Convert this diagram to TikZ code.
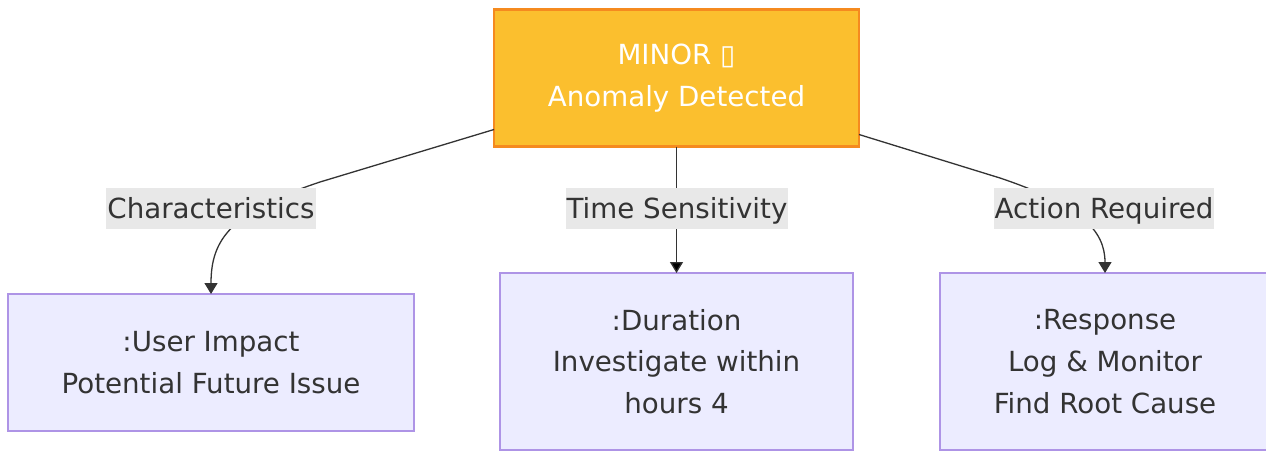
\documentclass[tikz,border=0pt]{standalone}
\usepackage{fontspec}
\setmainfont{DejaVu Sans}
\usetikzlibrary{positioning,arrows.meta}
\definecolor{minorfill}{HTML}{FBBF2E}
\definecolor{minordraw}{HTML}{F58A1F}
\definecolor{infofill}{HTML}{ECECFF}
\definecolor{infodraw}{HTML}{AE94E6}
\definecolor{lblfill}{HTML}{E8E8E8}
\definecolor{ink}{HTML}{333333}
\begin{document}
\begin{tikzpicture}
[x=1pt,y=-1pt,
 every node/.style={inner sep=0pt,outer sep=0pt,align=center,font=\fontsize{27.7pt}{41.6pt}\selectfont},
 alarm/.style={rectangle,draw=minordraw,line width=2.6pt,fill=minorfill,text=white,minimum width=365pt,minimum height=137pt},
 info/.style={rectangle,draw=infodraw,line width=1.7pt,fill=infofill,text=ink},
 lbl/.style={rectangle,fill=lblfill,text=ink,inner xsep=1pt,minimum height=41pt,text height=24pt,text depth=4pt},
 link/.style={draw=ink,line width=1.3pt,-{Triangle[width=13pt,length=11pt]}}]
\useasboundingbox (0,0) rectangle (1266,451);

\node[alarm] (minor) at (676.5,78) {MINOR ▯\\Anomaly Detected};

\node[info,minimum width=406pt,minimum height=137pt] (impact)   at (211,362.5)  {:User Impact\\Potential Future Issue};
\node[info,minimum width=353pt,minimum height=177pt] (duration) at (676.5,361.5) {:Duration\\Investigate within\\hours 4};
\node[info,minimum width=330pt,minimum height=177pt] (response) at (1105,361.5) {:Response\\Log \& Monitor\\Find Root Cause};

% edges first, labels painted over them
\draw[link] ([yshift=17pt]minor.south west) -- (320,182)
  .. controls (230,212) and (211,240) .. (impact.north);
\path[link] (minor) edge (duration);
\draw[link] ([yshift=12pt]minor.south east) -- (1000,178)
  .. controls (1080,205) and (1105,230) .. (response.north);

\node[lbl] (chars) at (211,208.5)  {Characteristics};
\node[lbl] (time)  at (677,208.5)  {Time Sensitivity};
\node[lbl] (act)   at (1104,208.5) {Action Required};
\end{tikzpicture}
\end{document}
